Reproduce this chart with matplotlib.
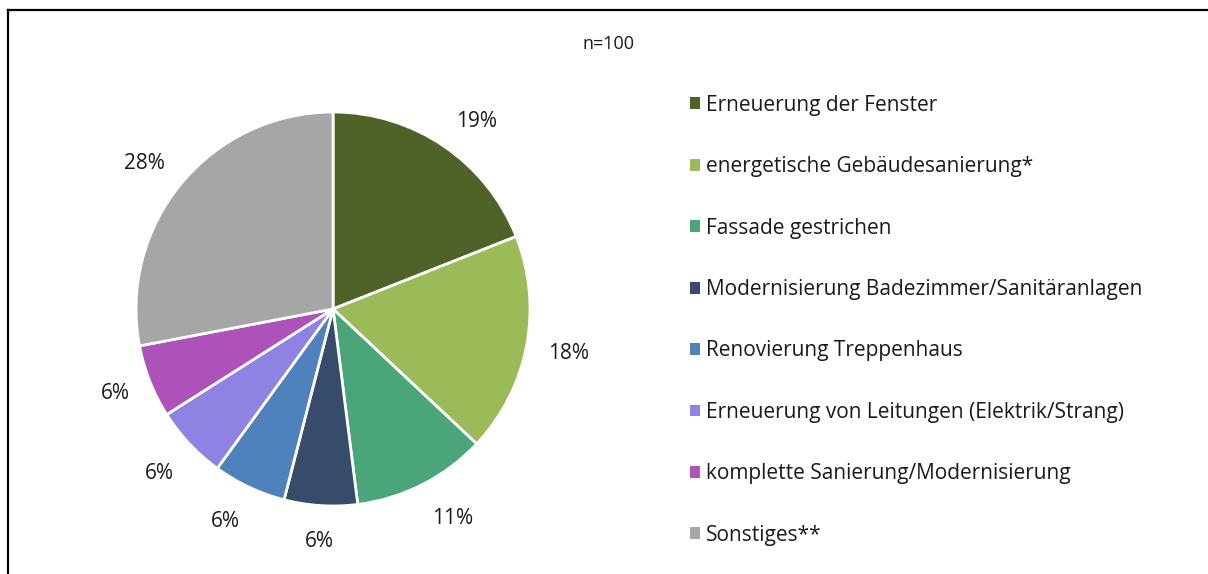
import numpy as np
import matplotlib.pyplot as plt
from matplotlib.lines import Line2D
from matplotlib.patches import Patch

plt.rcParams["font.family"] = ["Open Sans", "DejaVu Sans"]

categories = [
    "Erneuerung der Fenster",
    "energetische Gebäudesanierung*",
    "Fassade gestrichen",
    "Modernisierung Badezimmer/Sanitäranlagen",
    "Renovierung Treppenhaus",
    "Erneuerung von Leitungen (Elektrik/Strang)",
    "komplette Sanierung/Modernisierung",
    "Sonstiges**",
]
shares = [19, 18, 11, 6, 6, 6, 6, 28]
colors = ["#4F6228", "#9BBB59", "#4BA57A", "#374C6B",
          "#4F81BD", "#8E82E3", "#AD52B8", "#A6A6A6"]

fig = plt.figure(figsize=(12.08, 5.74), dpi=100)

# frame (left and top edge only, rest is cut off)
fig.add_artist(Line2D([8 / 1208, 8 / 1208], [0, 1 - 10 / 574],
                      color="black", linewidth=1.6))
fig.add_artist(Line2D([8 / 1208, 1], [1 - 10 / 574, 1 - 10 / 574],
                      color="black", linewidth=1.6))

ax = fig.add_axes([0.1126, 0.1185, 0.3262, 0.6864])
wedges, _ = ax.pie(
    shares,
    colors=colors,
    startangle=90,
    counterclock=False,
    wedgeprops=dict(edgecolor="white", linewidth=2),
)
ax.set_xlim(-1, 1)
ax.set_ylim(-1, 1)
ax.set_aspect("equal")

# outside-end labels, anchored by their nearest corner
for w, v in zip(wedges, shares):
    ang = np.deg2rad((w.theta1 + w.theta2) / 2)
    c, s = np.cos(ang), np.sin(ang)
    ha = "left" if c > 0.1 else ("right" if c < -0.1 else "center")
    va = "bottom" if s > 0.4 else ("top" if s < -0.4 else "center")
    ax.text(1.11 * c, 1.11 * s - 0.02, f"{v}%", ha=ha, va=va,
            fontsize=15, color="#1a1a1a")

fig.text(609 / 1208, 1 - 44 / 574, "n=100", ha="center", va="center",
         fontsize=13, color="#1a1a1a")

handles = [Patch(facecolor=c, edgecolor="none") for c in colors]
fig.legend(
    handles, categories,
    loc="upper left",
    bbox_to_anchor=(671 / 1208, 1 - 76 / 574),
    frameon=False,
    fontsize=15,
    handlelength=0.5,
    handleheight=0.5,
    handletextpad=0.3,
    labelspacing=1.94,
    labelcolor="#1a1a1a",
)

fig.savefig("out.png", dpi=100)
